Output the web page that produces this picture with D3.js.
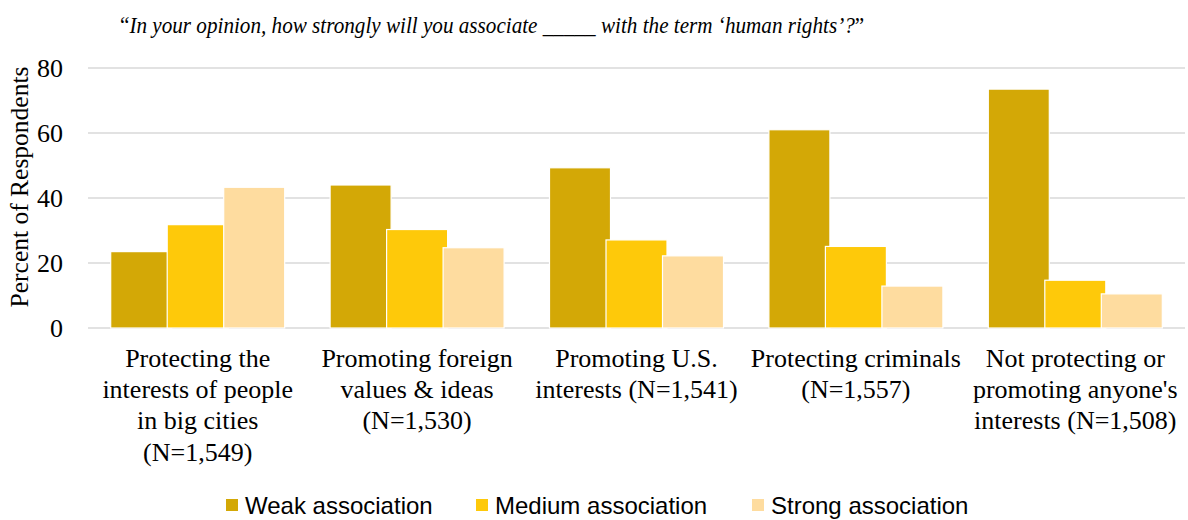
<!DOCTYPE html>
<html>
<head>
<meta charset="utf-8">
<script src="https://cdn.jsdelivr.net/npm/d3@7/dist/d3.min.js"></script>
<style>
  html, body { margin: 0; padding: 0; background: #fff; }
  svg { display: block; font-family: "Liberation Serif", "Times New Roman", serif; }
</style>
</head>
<body>
<svg id="chart" width="1188" height="520"></svg>
<script>
// Categories (each tick label split into its display lines)
const categories = [
  "Protecting the\ninterests of people\nin big cities\n(N=1,549)",
  "Promoting foreign\nvalues & ideas\n(N=1,530)",
  "Promoting U.S.\ninterests (N=1,541)",
  "Protecting criminals\n(N=1,557)",
  "Not protecting or\npromoting anyone's\ninterests (N=1,508)"
];
const seriesNames = ["Weak association", "Medium association", "Strong association"];
const weak   = [23.5, 44.0, 49.3, 61.0, 73.5];
const medium = [31.8, 30.3, 27.1, 25.1, 14.7];
const strong = [43.3, 24.7, 22.2, 12.9, 10.5];
const yTicks = [0, 20, 40, 60, 80];
const colors = ["#D3A806", "#FEC90A", "#FEDC9F"];

const seriesValues = [weak, medium, strong];

const svg = d3.select("#chart");
const plotLeft = 88, plotRight = 1185, plotTop = 68, plotBottom = 328;

const x0 = d3.scaleBand().domain(categories).range([plotLeft, plotRight]).padding(0);
const x1 = d3.scalePoint().domain(seriesNames).range([-56.5, 56.5]);
const barW = 61;
const y = d3.scaleLinear().domain([0, 80]).range([plotBottom, plotTop]);

// Gridlines
svg.append("g")
  .selectAll("line")
  .data(yTicks)
  .join("line")
  .attr("x1", plotLeft).attr("x2", plotRight)
  .attr("y1", d => y(d)).attr("y2", d => y(d))
  .attr("stroke", "#d9d9d9")
  .attr("stroke-width", 1.5);

// Y axis labels
const yAxis = d3.axisLeft(y).tickValues(yTicks).tickSize(0).tickPadding(0);
const gy = svg.append("g").attr("transform", "translate(63,0)").call(yAxis);
gy.select(".domain").remove();
gy.selectAll("text")
  .attr("font-family", "Liberation Serif, Times New Roman, serif")
  .attr("font-size", 26)
  .attr("fill", "#000");

// Y axis title
svg.append("text")
  .attr("transform", "translate(28," + ((62 + 312) / 2) + ") rotate(-90)")
  .attr("text-anchor", "middle")
  .attr("font-size", 25.5)
  .attr("fill", "#000")
  .text("Percent of Respondents");

// Bars, series drawn in order so later series overlap earlier ones
seriesValues.forEach((vals, si) => {
  svg.append("g")
    .selectAll("rect")
    .data(vals.map((v, i) => ({ cat: categories[i], v })))
    .join("rect")
    .attr("x", d => x0(d.cat) + x0.bandwidth() / 2 + x1(seriesNames[si]) - barW / 2)
    .attr("y", d => y(d.v))
    .attr("width", barW)
    .attr("height", d => y(0) - y(d.v))
    .attr("fill", colors[si])
    .attr("stroke", "#fff")
    .attr("stroke-width", 1.2);
});

// Category labels
const xAxis = svg.append("g");
categories.forEach(c => {
  const t = xAxis.append("text")
    .attr("text-anchor", "middle")
    .attr("font-size", 26)
    .attr("fill", "#000");
  c.split("\n").forEach((line, li) => {
    t.append("tspan")
      .attr("x", x0(c) + x0.bandwidth() / 2)
      .attr("y", 367 + li * 31.2)
      .text(line);
  });
});

// Title (slightly condensed italic serif)
const title = svg.append("text")
  .attr("transform", "translate(120,33) scale(0.882,1)")
  .attr("x", 0)
  .attr("y", 0)
  .attr("font-size", 24)
  .attr("fill", "#000");
title.append("tspan").text("“");
title.append("tspan").attr("font-style", "italic")
  .text("In your opinion, how strongly will you associate _____ with the term ‘human rights’?");
title.append("tspan").text("”");

// Legend
const legendX = [226, 476, 752];
const lg = svg.append("g");
seriesNames.forEach((name, i) => {
  lg.append("rect")
    .attr("x", legendX[i]).attr("y", 499)
    .attr("width", 12).attr("height", 12)
    .attr("fill", colors[i]);
  lg.append("text")
    .attr("x", legendX[i] + 19).attr("y", 514)
    .attr("font-family", "Liberation Sans Narrow, Liberation Sans, Arial, sans-serif")
    .attr("font-size", 24)
    .attr("fill", "#000")
    .text(name);
});
</script>
</body>
</html>
